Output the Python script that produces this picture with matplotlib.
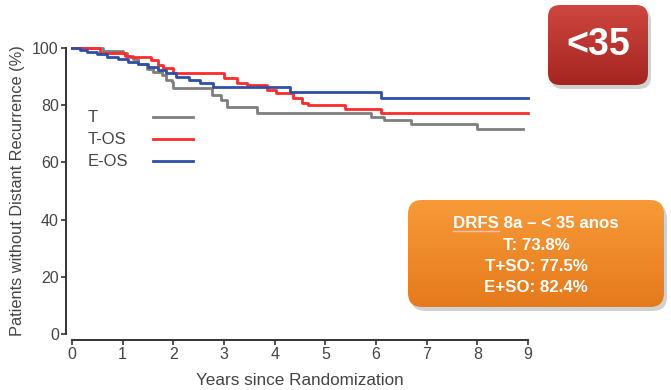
import matplotlib
matplotlib.use("Agg")
import matplotlib.pyplot as plt
import numpy as np
from matplotlib.patches import FancyBboxPatch

plt.rcParams['font.family'] = ['Liberation Sans', 'DejaVu Sans']

# ---- data ----
t_time = [0, 0.62, 1.0, 1.08, 1.2, 1.3, 1.48, 1.6, 1.78, 1.85, 1.98, 2.0, 2.77, 2.95, 3.06, 3.65, 5.9, 6.15, 6.7, 8.0, 8.9]
t_surv = [100, 99.0, 98.2, 97.3, 96.0, 94.5, 92.5, 91.7, 90.5, 88.8, 88.0, 85.9, 83.6, 81.8, 79.5, 77.2, 75.8, 74.8, 73.5, 71.7, 71.7]

tos_time = [0, 0.55, 1.05, 1.15, 1.55, 1.7, 1.8, 2.0, 3.0, 3.25, 3.45, 3.84, 4.03, 4.37, 4.53, 4.65, 5.39, 6.1, 9.0]
tos_surv = [100, 98.1, 97.3, 96.7, 95.8, 94.0, 92.9, 91.1, 89.4, 87.7, 87.0, 85.3, 84.1, 82.4, 80.7, 80.1, 78.5, 77.2, 77.2]

eos_time = [0, 0.15, 0.3, 0.5, 0.7, 0.9, 1.1, 1.3, 1.5, 1.7, 1.85, 2.05, 2.3, 2.52, 2.78, 4.3, 6.1, 9.0]
eos_surv = [100, 99.3, 98.6, 97.8, 97.0, 96.0, 95.2, 94.3, 93.5, 92.3, 91.1, 90.0, 88.8, 87.6, 86.5, 84.6, 82.4, 82.4]

series_labels = ["T", "T-OS", "E-OS"]
series_colors = ["#7f7f7f", "#ff2a2a", "#2f4fa8"]

x_ticks = list(range(0, 10))
y_ticks = [0, 20, 40, 60, 80, 100]

box_title_a = "DRFS"
box_title_b = " 8a – < 35 anos"
box_lines = ["T: 73.8%", "T+SO: 77.5%", "E+SO: 82.4%"]
badge_text = "<35"

W, H = 671, 390
fig = plt.figure(figsize=(W / 100, H / 100), dpi=100)

# main axes: x=0 at px 72, x=9 at px 528; y=100 at py 48, y=0 at py 334
ax = fig.add_axes([72 / W, (H - 334) / H, 456 / W, 286 / H])
ax.set_xlim(0, 9)
ax.set_ylim(0, 100)

for tt, ss, lab, col in zip([t_time, tos_time, eos_time], [t_surv, tos_surv, eos_surv],
                            series_labels, series_colors):
    ax.step(tt, ss, where='post', color=col, lw=2.0, label=lab, clip_on=False, zorder=3)

for s in ['top', 'right']:
    ax.spines[s].set_visible(False)
ax.spines['left'].set_position(('outward', 4))
ax.spines['bottom'].set_position(('outward', 4))
ax.spines['left'].set_bounds(0, 100)
ax.spines['bottom'].set_bounds(0, 9)
for s in ['left', 'bottom']:
    ax.spines[s].set_linewidth(1.4)
    ax.spines[s].set_color('#333333')

ax.set_xticks(x_ticks)
ax.set_yticks(y_ticks)
ax.tick_params(axis='both', direction='out', length=3.5, width=1.2, color='#333333',
               labelsize=11.5, labelcolor='#444444', pad=2)
ax.set_xlabel("Years since Randomization", fontsize=12.3, color='#444444', labelpad=8)
ax.set_ylabel("Patients without Distant Recurrence (%)", fontsize=11.8, color='#444444', labelpad=5)

# legend: labels left-aligned, line sample to the right
leg_x_text = (88 - 72) / 456
leg_x0 = (153 - 72) / 456
leg_x1 = (193 - 72) / 456
for i, (lab, col) in enumerate(zip(series_labels, series_colors)):
    yy = (334 - (117 + 22 * i)) / 286
    ax.text(leg_x_text, yy, lab, transform=ax.transAxes, ha='left', va='center',
            fontsize=12, color='#444444')
    ax.plot([leg_x0, leg_x1], [yy, yy], transform=ax.transAxes, color=col, lw=2.0)

# overlay axes in pixel coordinates for boxes
ov = fig.add_axes([0, 0, 1, 1])
ov.axis('off')
ov.patch.set_alpha(0)

def gradient_box(x0, y0, w, h, top, bottom, rad):
    sh = FancyBboxPatch((x0 + 3, y0 + 4), w, h, boxstyle=f"round,pad=0,rounding_size={rad}",
                        fc='#000000', ec='none', alpha=0.18, zorder=1)
    ov.add_patch(sh)
    patch = FancyBboxPatch((x0, y0), w, h, boxstyle=f"round,pad=0,rounding_size={rad}",
                           fc='none', ec='none', zorder=2)
    ov.add_patch(patch)
    c1 = np.array(matplotlib.colors.to_rgb(top))
    c2 = np.array(matplotlib.colors.to_rgb(bottom))
    g = np.linspace(0, 1, 100)[:, None, None]
    img = c1[None, None, :] * (1 - g) + c2[None, None, :] * g
    img = np.repeat(img, 2, axis=1)
    im = ov.imshow(img, extent=(x0, x0 + w, y0 + h, y0), aspect='auto', zorder=2,
                   interpolation='bilinear')
    im.set_clip_path(patch)

# orange box
gradient_box(408, 200, 256, 107, '#f89a38', '#e57a1c', 14)
cx = 536
fs_box = 12.2
full = ov.text(cx, 223, box_title_a + box_title_b, ha='center', va='center', fontsize=fs_box,
               fontweight='bold', color='white', zorder=5)
for i, s in enumerate(box_lines):
    ov.text(cx, 245 + 21.5 * i, s, ha='center', va='center', fontsize=fs_box,
            fontweight='bold', color='white', zorder=5)

# red badge
gradient_box(548, 5, 100, 80, '#cf4640', '#a5251f', 12)
ov.text(598, 45, badge_text, ha='center', va='center', fontsize=27, fontweight='bold',
        color='white', zorder=5)
ov.set_xlim(0, W)
ov.set_ylim(H, 0)

# underline DRFS
fig.canvas.draw()
r = fig.canvas.get_renderer()
bb = full.get_window_extent(r)
tmp = ov.text(0, 0, box_title_a, fontsize=fs_box, fontweight='bold')
wb = tmp.get_window_extent(r).width
tmp.remove()
ov.plot([bb.x0, bb.x0 + wb], [H - bb.y0 + 0.5, H - bb.y0 + 0.5], color='#f6c0b0', lw=1.0, zorder=5)
ov.set_xlim(0, W)
ov.set_ylim(H, 0)

fig.savefig("out.png", dpi=100)
